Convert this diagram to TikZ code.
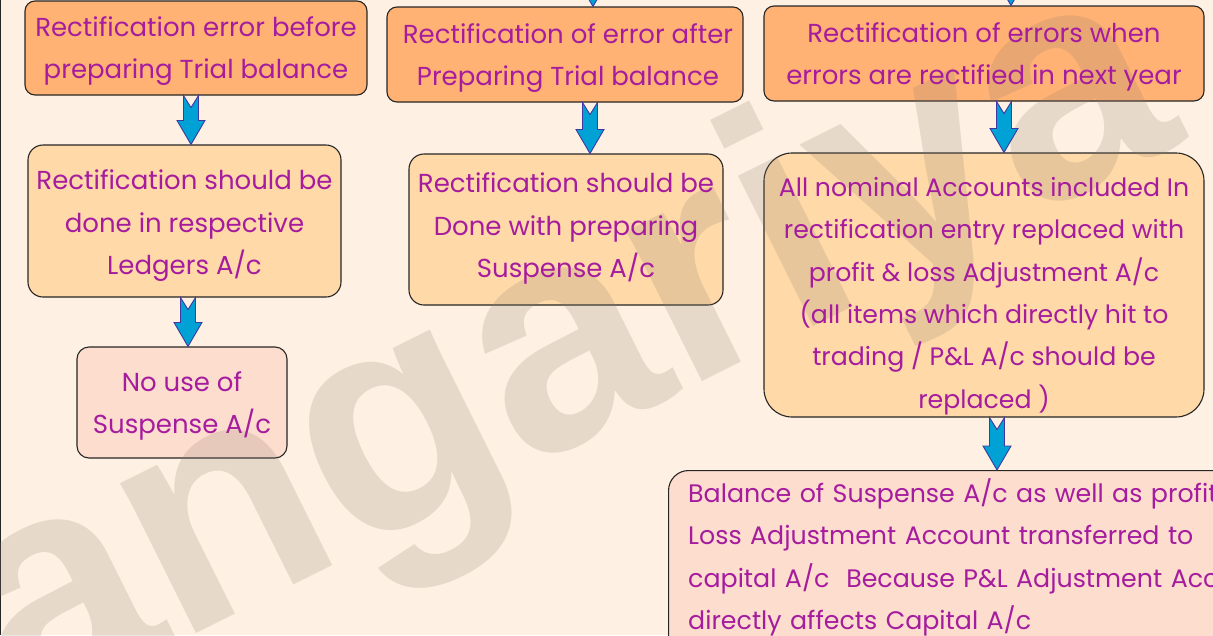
\documentclass[tikz,border=0pt]{standalone}
\usepackage{fontspec}
\setmainfont{Poppins}
\newfontfamily\wmfont{Liberation Sans}
\usetikzlibrary{calc}

\definecolor{bgcream}{RGB}{254,240,226}
\definecolor{boxdark}{RGB}{255,178,115}
\definecolor{boxlight}{RGB}{255,217,168}
\definecolor{boxpink}{RGB}{253,221,205}
\definecolor{txtmag}{RGB}{166,28,158}
\definecolor{arrowfill}{RGB}{0,162,214}
\definecolor{arrowline}{RGB}{62,56,160}
\definecolor{wmgrey}{RGB}{140,125,110}

% thick block arrow with a notched tail, drawn between two anchors
\newcommand\blockarrow[3]{%
  \draw[blockarr] let \p1=($(#1)+(#3,0)$), \p2=(#2) in
    (\x1-7.5pt,\y1) -- (\x1,\y1-12pt) -- (\x1+7.5pt,\y1)
    -- (\x1+7.5pt,\y2+24pt) -- (\x1+14pt,\y2+24pt) -- (\x1,\y2)
    -- (\x1-14pt,\y2+24pt) -- (\x1-7.5pt,\y2+24pt) -- cycle;}

\begin{document}
\begin{tikzpicture}[x=1pt,y=-1pt,
  box/.style={draw=black!85, line width=1.1pt, inner sep=0pt},
  headbox/.style={box, fill=boxdark, rounded corners=10pt},
  midbox/.style={box, fill=boxlight, rounded corners=15pt},
  endbox/.style={box, fill=boxpink, rounded corners=12pt},
  label/.style={align=center, inner sep=0pt, text=txtmag,
    font=\fontsize{26}{42.5}\selectfont},
  blockarr/.style={fill=arrowfill, draw=arrowline, line width=0.9pt, line join=miter},
  watermark/.style={text=wmgrey, text opacity=0.2, inner sep=0pt,
    font=\wmfont\bfseries\fontsize{318}{318}\selectfont}]

\clip (0,0) rectangle (1213,635);
\fill[bgcream] (0,0) rectangle (1213,635);
\draw[black!85, line width=1.3pt] (0.6,0) -- (0.6,635);

% boxes
\node[headbox, minimum width=342pt, minimum height=94pt] (a1) at (196,48) {};
\node[midbox, minimum width=313pt, minimum height=152pt] (a2) at (184.5,221) {};
\node[endbox, minimum width=210pt, minimum height=111pt] (a3) at (182,402.5) {};
\node[headbox, minimum width=356pt, minimum height=95pt] (b1) at (565,54.5) {};
\node[midbox, minimum width=314pt, minimum height=151pt] (b2) at (566,229.5) {};
\node[headbox, minimum width=440pt, minimum height=95pt] (c1) at (984,53.5) {};
\node[midbox, rounded corners=28pt, minimum width=440pt, minimum height=264pt] (c2) at (984,285) {};
\node[endbox, rounded corners=20pt, anchor=north west,
  minimum width=620pt, minimum height=200pt] (c3) at (668,470) {};

% watermark lettering across the sheet
\node[watermark, rotate=26.5] (wm) at (567.6,358) {angariya};

% connectors entering from above the frame
\coordinate (b1top) at (593,-40);
\coordinate (c1top) at (1011,-40);

\blockarrow{b1top}{b1.north}{0}
\blockarrow{c1top}{c1.north}{0}
\blockarrow{a1.south}{a2.north}{-5}
\blockarrow{a2.south}{a3.north}{3.5}
\blockarrow{b1.south}{b2.north}{25}
\blockarrow{c1.south}{c2.north}{20}
\blockarrow{c2.south}{c3.north west}{13}

% box texts
\node[label] (a1t) at (196,51) {Rectification error before\\preparing Trial balance};
\node[label] (a2t) at (184.5,226) {Rectification should be\\done in respective\\Ledgers A/c};
\node[label] (a3t) at (182,406) {No use of\\Suspense A/c};
\node[label] (b1t) at (568,58) {Rectification of error after\\Preparing Trial balance};
\node[label] (b2t) at (566,228.5) {Rectification should be\\Done with preparing\\Suspense A/c};
\node[label] (c1t) at (984,57) {Rectification of errors when\\errors are rectified in next year};
\node[label, font=\fontsize{25.2}{42.3}\selectfont] (c2t) at (984,296) {All nominal Accounts included In\\rectification entry replaced with\\profit \& loss Adjustment A/c\\(all items which directly hit to\\trading / P\&L A/c should be\\replaced )};
\node[label, align=left, anchor=west, text width=640pt,
  font=\fontsize{25.3}{42.5}\selectfont] (c3t) at (688,557.5)
  {Balance of Suspense A/c as well as profit \&\\Loss Adjustment Account transferred to\\capital A/c\ \ Because P\&L Adjustment Account\\directly affects Capital A/c};
\end{tikzpicture}
\end{document}
